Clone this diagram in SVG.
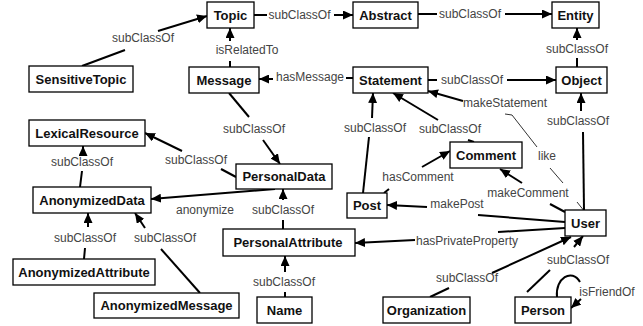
<svg xmlns="http://www.w3.org/2000/svg" width="643" height="326" viewBox="0 0 643 326">
<defs>
<marker id="ah" markerUnits="userSpaceOnUse" markerWidth="11" markerHeight="9" refX="10" refY="4.5" orient="auto">
<path d="M0,0 L10,4.5 L0,9 z" fill="#000"/>
</marker>
<style>
.box{fill:#fff;stroke:#000;stroke-width:1.3}
.nt{font-family:"Liberation Sans",Arial,sans-serif;font-size:13px;font-weight:bold;fill:#111;text-anchor:middle}
.e{fill:none;stroke:#000;stroke-width:2}
.a{fill:none;stroke:#000;stroke-width:2;marker-end:url(#ah)}
.thin{fill:none;stroke:#333;stroke-width:1}
.lb{font-family:"Liberation Sans",Arial,sans-serif;font-size:12px;fill:#444;text-anchor:middle}
</style>
</defs>
<rect width="643" height="326" fill="#fff"/>
<g id="connectors">
<!-- SensitiveTopic -> Topic -->
<path class="e" d="M82,66 L125,50"/><text class="lb" x="143" y="42">subClassOf</text><path class="a" d="M158,31 L207,16"/>
<!-- Topic -> Abstract -->
<path class="e" d="M254,15 L267,15"/><text class="lb" x="299.5" y="19">subClassOf</text><path class="a" d="M334,15 L353,15"/>
<!-- Abstract -> Entity -->
<path class="e" d="M418,14 L437,14"/><text class="lb" x="470" y="18">subClassOf</text><path class="a" d="M505,14 L552,14"/>
<!-- Object -> Entity -->
<path class="e" d="M577,67 L577,58"/><text class="lb" x="577" y="53">subClassOf</text><path class="a" d="M577,40 L577,28"/>
<!-- Statement -> Object -->
<path class="e" d="M428,80 L437,80"/><text class="lb" x="472" y="84">subClassOf</text><path class="a" d="M507,80 L556,80"/>
<!-- Message -> Topic -->
<path class="e" d="M230,67 L230,61"/><text class="lb" x="247" y="54">isRelatedTo</text><path class="a" d="M230,41 L230,28"/>
<!-- Statement -> Message -->
<path class="e" d="M353,78 L346,78"/><text class="lb" x="310" y="81">hasMessage</text><path class="a" d="M273,79 L259,79"/>
<!-- Message -> PersonalData -->
<path class="e" d="M229,93 L249,117"/><text class="lb" x="254" y="133">subClassOf</text><path class="a" d="M263,140 L280,164"/>
<!-- PersonalData -> LexicalResource -->
<path class="e" d="M236,177 L221,169"/><text class="lb" x="196" y="164">subClassOf</text><path class="a" d="M182,151 L145,133"/>
<!-- AnonymizedData -> LexicalResource -->
<path class="e" d="M80,187 L82,171"/><text class="lb" x="82" y="166">subClassOf</text><path class="a" d="M83,155 L83,146"/>
<!-- PersonalData -> AnonymizedData -->
<path class="a" d="M275,189 L151,199"/><text class="lb" x="205" y="214">anonymize</text>
<!-- PersonalAttribute -> PersonalData -->
<path class="e" d="M283,229 L283,220"/><text class="lb" x="283" y="214">subClassOf</text><path class="a" d="M283,200 L283,189"/>
<!-- AnonymizedAttribute -> AnonymizedData -->
<path class="e" d="M84,259 L85,248"/><text class="lb" x="85" y="242">subClassOf</text><path class="a" d="M88,227 L88,213"/>
<!-- AnonymizedMessage -> AnonymizedData -->
<path class="e" d="M200,293 L161,249"/><text class="lb" x="165" y="242">subClassOf</text><path class="a" d="M145,228 L135,213"/>
<!-- Name -> PersonalAttribute -->
<path class="e" d="M285,297 L285,292"/><text class="lb" x="284" y="286">subClassOf</text><path class="a" d="M285,272 L285,256"/>
<!-- User -> PersonalAttribute -->
<path class="e" d="M565,228 L498,232"/><text class="lb" x="467" y="245">hasPrivateProperty</text><path class="a" d="M415,240 L355,243"/>
<!-- User -> Post -->
<path class="e" d="M565,222 L478,215"/><text class="lb" x="457" y="208">makePost</text><path class="a" d="M427,207 L387,205"/>
<!-- User -> Comment -->
<path class="e" d="M565,212 L550,204"/><text class="lb" x="528" y="197">makeComment</text><path class="a" d="M522,183 L500,169"/>
<!-- User -> Statement (makeStatement) -->
<text class="lb" x="505" y="107">makeStatement</text><path class="a" d="M463,101 L428,91"/>
<!-- like -->
<path class="thin" d="M505,114 L512,115 L537,147"/><text class="lb" x="547" y="160">like</text><path class="thin" d="M550,168 L563,183"/><path class="thin" d="M577,202 L585,212"/>
<!-- Post -> Statement -->
<path class="e" d="M363,193 L369,137"/><text class="lb" x="375" y="132">subClassOf</text><path class="a" d="M372,118 L373,93"/>
<!-- Comment -> Statement -->
<path class="e" d="M474,142 L468,140"/><text class="lb" x="450" y="133">subClassOf</text><path class="a" d="M438,120 L393,93"/>
<!-- Post -> Comment -->
<path class="e" d="M384,193 L389,189"/><text class="lb" x="418" y="181">hasComment</text><path class="a" d="M422,167 L450,151"/>
<!-- User -> Object -->
<path class="e" d="M584,210 L583,132"/><text class="lb" x="578" y="125">subClassOf</text><path class="a" d="M581,111 L581,93"/>
<!-- Organization -> User -->
<path class="e" d="M430,297 L449,288"/><text class="lb" x="467" y="282">subClassOf</text><path class="a" d="M492,273 L571,237"/>
<!-- Person -> User -->
<path class="e" d="M527,292 L550,270"/><text class="lb" x="578" y="264">subClassOf</text><path class="a" d="M574,247 L583,236"/>
<!-- Person -> Person -->
<path class="e" d="M557,297 C555,278 572,268 580,282"/><path class="a" d="M581,299 L571,308"/><text class="lb" x="607" y="296">isFriendOf</text>
</g>
<g id="node-Topic"><rect class="box" x="207" y="2" width="47" height="26"/><text class="nt" x="230.5" y="19.7">Topic</text></g>
<g id="node-Abstract"><rect class="box" x="353" y="2" width="65" height="26"/><text class="nt" x="385.5" y="19.7">Abstract</text></g>
<g id="node-Entity"><rect class="box" x="552" y="2" width="47" height="26"/><text class="nt" x="575.5" y="19.7">Entity</text></g>
<g id="node-SensitiveTopic"><rect class="box" x="29" y="66" width="104" height="26"/><text class="nt" x="81" y="83.7">SensitiveTopic</text></g>
<g id="node-Message"><rect class="box" x="189" y="67" width="70" height="26"/><text class="nt" x="224" y="84.7">Message</text></g>
<g id="node-Statement"><rect class="box" x="353" y="67" width="75" height="26"/><text class="nt" x="390.5" y="84.7">Statement</text></g>
<g id="node-Object"><rect class="box" x="556" y="67" width="51" height="26"/><text class="nt" x="581.5" y="84.7">Object</text></g>
<g id="node-LexicalResource"><rect class="box" x="29" y="120" width="116" height="26"/><text class="nt" x="87" y="137.7">LexicalResource</text></g>
<g id="node-Comment"><rect class="box" x="450" y="142" width="72" height="26"/><text class="nt" x="486" y="159.7">Comment</text></g>
<g id="node-PersonalData"><rect class="box" x="236" y="164" width="96" height="25"/><text class="nt" x="284" y="181.2">PersonalData</text></g>
<g id="node-AnonymizedData"><rect class="box" x="33" y="187" width="118" height="26"/><text class="nt" x="92" y="204.7">AnonymizedData</text></g>
<g id="node-Post"><rect class="box" x="347" y="193" width="40" height="25"/><text class="nt" x="367" y="210.2">Post</text></g>
<g id="node-User"><rect class="box" x="565" y="210" width="41" height="26"/><text class="nt" x="585.5" y="227.7">User</text></g>
<g id="node-PersonalAttribute"><rect class="box" x="223" y="229" width="132" height="27"/><text class="nt" x="288" y="247.2">PersonalAttribute</text></g>
<g id="node-AnonymizedAttribute"><rect class="box" x="13" y="259" width="142" height="26"/><text class="nt" x="84" y="276.7">AnonymizedAttribute</text></g>
<g id="node-AnonymizedMessage"><rect class="box" x="94" y="293" width="145" height="25"/><text class="nt" x="166.5" y="310.2">AnonymizedMessage</text></g>
<g id="node-Name"><rect class="box" x="257" y="297" width="55" height="26"/><text class="nt" x="284.5" y="314.7">Name</text></g>
<g id="node-Organization"><rect class="box" x="383" y="297" width="87" height="26"/><text class="nt" x="426.5" y="314.7">Organization</text></g>
<g id="node-Person"><rect class="box" x="515" y="297" width="56" height="26"/><text class="nt" x="543" y="314.7">Person</text></g>
</svg>
